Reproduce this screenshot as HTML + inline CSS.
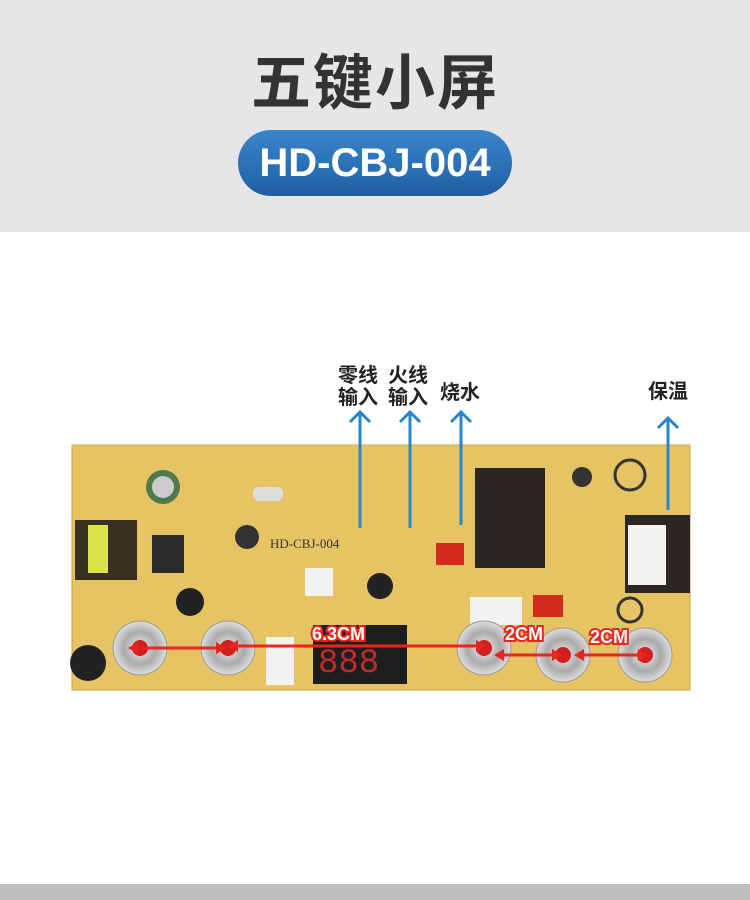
<!DOCTYPE html>
<html><head><meta charset="utf-8"><style>
body{margin:0;width:750px;height:900px;overflow:hidden;background:#fff;font-family:"Liberation Sans","Noto Sans CJK SC",sans-serif;position:relative}
.top{position:absolute;left:0;top:0;width:750px;height:232px;background:#e6e6e6}
.title{position:absolute;top:48px;width:750px;text-align:center;font-size:60px;font-weight:bold;color:#333;letter-spacing:2px;line-height:72px}
.pill{position:absolute;left:238px;top:130px;width:274px;height:66px;border-radius:33px;background:linear-gradient(#3a86cc,#1f5fa3);color:#fff;font-size:40px;font-weight:bold;text-align:center;line-height:66px}
.bot{position:absolute;left:0;top:884px;width:750px;height:16px;background:#bdbdbd}
</style></head><body>
<div class="top"></div>
<div class="title">五键小屏</div>
<div class="pill">HD-CBJ-004</div>
<svg width="750" height="900" style="position:absolute;left:0;top:0">
<defs><radialGradient id="c" cx="50%" cy="50%" r="50%"><stop offset="0" stop-color="#eee"/><stop offset=".6" stop-color="#aaa"/><stop offset="1" stop-color="#ddd"/></radialGradient></defs>
<rect x="72" y="445" width="618" height="245" fill="#e7c463" rx="3"/>
<rect x="72" y="445" width="618" height="245" fill="none" stroke="#caa34a"/>
<rect x="75" y="520" width="62" height="60" fill="#3a3022"/><rect x="88" y="525" width="20" height="48" fill="#d9e34a"/>
<circle cx="163" cy="487" r="17" fill="#4f7a4c"/><circle cx="163" cy="487" r="11" fill="#ccc"/>
<rect x="152" y="535" width="32" height="38" fill="#2a2a2a"/>
<circle cx="190" cy="602" r="14" fill="#222"/><circle cx="247" cy="537" r="12" fill="#333"/>
<circle cx="380" cy="586" r="13" fill="#222"/>
<rect x="253" y="487" width="30" height="14" fill="#ddd" rx="6"/>
<rect x="475" y="468" width="70" height="100" fill="#2a2622"/>
<rect x="625" y="515" width="65" height="78" fill="#2a2622"/><rect x="628" y="525" width="38" height="60" fill="#f2f2f0"/>
<rect x="436" y="543" width="28" height="22" fill="#d42a1e"/><rect x="533" y="595" width="30" height="22" fill="#d42a1e"/>
<rect x="470" y="597" width="52" height="28" fill="#f2f2f2"/><rect x="305" y="568" width="28" height="28" fill="#f2f2f2"/>
<rect x="266" y="637" width="28" height="48" fill="#f2f2f2"/>
<circle cx="88" cy="663" r="18" fill="#222"/>
<rect x="313" y="625" width="94" height="59" fill="#1e1e1e"/>
<text x="318" y="672" font-size="34" font-family="Liberation Mono" fill="#c32a2a">888</text>
<circle cx="630" cy="475" r="15" fill="none" stroke="#333" stroke-width="3"/><circle cx="582" cy="477" r="10" fill="#333"/>
<circle cx="630" cy="610" r="12" fill="none" stroke="#333" stroke-width="3"/>
<g fill="url(#c)" stroke="#999">
<circle cx="140" cy="648" r="27"/><circle cx="228" cy="648" r="27"/><circle cx="484" cy="648" r="27"/><circle cx="563" cy="655" r="27"/><circle cx="645" cy="655" r="27"/></g>
<g fill="#d21f1f"><circle cx="140" cy="648" r="8"/><circle cx="228" cy="648" r="8"/><circle cx="484" cy="648" r="8"/><circle cx="563" cy="655" r="8"/><circle cx="645" cy="655" r="8"/></g>
<text x="270" y="548" font-size="13" fill="#333" font-family="Liberation Serif">HD-CBJ-004</text>
<g stroke="#2a86c8" stroke-width="3" fill="none">
<path d="M360 528V412M350 422l10-10 10 10"/><path d="M410 528V412M400 422l10-10 10 10"/>
<path d="M461 525V412M451 422l10-10 10 10"/><path d="M668 510V418M658 428l10-10 10 10"/></g>
<g stroke="#e8261e" stroke-width="3" fill="#e8261e">
<path d="M132 648H220"/><path d="M230 646H478"/><path d="M500 655H556"/><path d="M580 655H640"/></g>
<g fill="#e8261e"><path d="M128 648l10-6v12z"/><path d="M226 648l-10-6v12z"/><path d="M228 646l10-6v12z"/><path d="M486 646l-10-6v12z"/><path d="M494 655l10-6v12z"/><path d="M562 655l-10-6v12z"/><path d="M574 655l10-6v12z"/><path d="M648 655l-10-6v12z"/></g>
<g font-size="18" font-weight="bold" fill="#fff" stroke="#e8261e" stroke-width="4" paint-order="stroke">
<text x="312" y="640">6.3CM</text><text x="505" y="640">2CM</text><text x="590" y="643">2CM</text></g>
<g font-size="20" font-weight="bold" fill="#222" font-family="Liberation Sans,Noto Sans CJK SC,sans-serif">
<text x="338" y="382">零线</text><text x="338" y="404">输入</text>
<text x="388" y="382">火线</text><text x="388" y="404">输入</text>
<text x="440" y="399">烧水</text><text x="648" y="398">保温</text></g>
</svg>
<div class="bot"></div>
</body></html>
